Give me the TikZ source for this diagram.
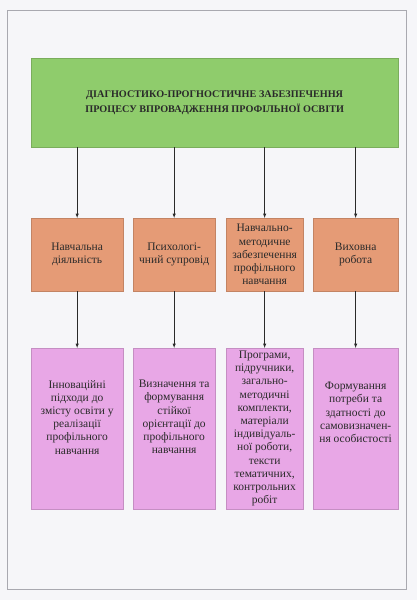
\documentclass[tikz,border=0pt]{standalone}
\usepackage{fontspec}
\setmainfont{Liberation Serif}
\usetikzlibrary{arrows,positioning}
\definecolor{pagebg}{HTML}{F6F6F9}
\definecolor{framegray}{HTML}{A9A9B0}
\definecolor{titlegreen}{HTML}{8FCC6C}
\definecolor{midorange}{HTML}{E59B76}
\definecolor{cardpink}{HTML}{E8A7E6}
\definecolor{inkgray}{HTML}{2A2A2A}
\tikzstyle{titlebox} = [fill=titlegreen,draw=titlegreen!85!black,line width=0.3pt,anchor=north west,
  minimum width=367pt,minimum height=89pt,align=center,inner sep=0pt,
  font=\fontsize{10.2}{14.5}\selectfont\bfseries,text=inkgray]
\tikzstyle{midbox} = [fill=midorange,draw=midorange!85!black,line width=0.3pt,anchor=north west,
  minimum height=73pt,align=center,inner sep=0pt,
  font=\fontsize{11.5}{13.2}\selectfont,text=inkgray]
\tikzstyle{card} = [fill=cardpink,draw=cardpink!85!black,line width=0.3pt,anchor=north west,
  minimum height=161pt,inner sep=0pt]
\tikzstyle{cardtext} = [align=center,inner sep=0pt,
  font=\fontsize{11.5}{13.2}\selectfont,text=inkgray]
\tikzstyle{link} = [->,>=latex,inkgray,line width=0.5pt]

\begin{document}
\begin{tikzpicture}[x=1pt,y=-1pt]
		% page and its frame
		\fill[pagebg] (0,0) rectangle (417,600);
		\useasboundingbox (0,0) rectangle (417,600);
		\draw[framegray,line width=0.6pt] (7,10) rectangle (406,589);

		% define constants
		\def \otop {218}
		\def \ptop {348}

		% title block
		\node[titlebox] (title) at (31,58)
			{ДІАГНОСТИКО-ПРОГНОСТИЧНЕ ЗАБЕЗПЕЧЕННЯ\\ПРОЦЕСУ ВПРОВАДЖЕННЯ ПРОФІЛЬНОЇ ОСВІТИ};

		% middle row
		\node[midbox,minimum width=92pt] (nav) at (31,\otop) {Навчальна\\діяльність};
		\node[midbox,minimum width=82pt] (psy) at (133,\otop) {Психологі-\\чний супровід};
		\node[midbox,minimum width=77pt] (met) at (226,\otop)
			{Навчально-\\методичне\\забезпечення\\профільного\\навчання};
		\node[midbox,minimum width=85pt] (vyh) at (313,\otop) {Виховна\\робота};

		% bottom row
		\node[card,minimum width=92pt] (inn) at (31,\ptop) {};
		\node[card,minimum width=82pt] (ori) at (133,\ptop) {};
		\node[card,minimum width=77pt] (prg) at (226,\ptop) {};
		\node[card,minimum width=85pt] (frm) at (313,\ptop) {};

		\node[cardtext,below=32pt of inn.north,anchor=north] (innt)
			{Інноваційні\\підходи до\\змісту освіти у\\реалізації\\профільного\\навчання};
		\node[cardtext,below=32pt of ori.north,anchor=north] (orit)
			{Визначення та\\формування\\стійкої\\орієнтації до\\профільного\\навчання};
		\node[cardtext] (prgt) at (prg.center)
			{Програми,\\підручники,\\загально-\\методичні\\комплекти,\\матеріали\\індивідуаль-\\ної роботи,\\тексти\\тематичних,\\контрольних\\робіт};
		\node[cardtext,below=34pt of frm.north,anchor=north] (frmt)
			{Формування\\потреби та\\здатності до\\самовизначен-\\ня особистості};

		% connectors
		\foreach \m/\b in {nav/inn,psy/ori,met/prg,vyh/frm}{
			\draw[link] (title.south -| \m.north) -- (\m.north);
			\draw[link] (\m.south) -- (\b.north);
		}
\end{tikzpicture}
\end{document}
